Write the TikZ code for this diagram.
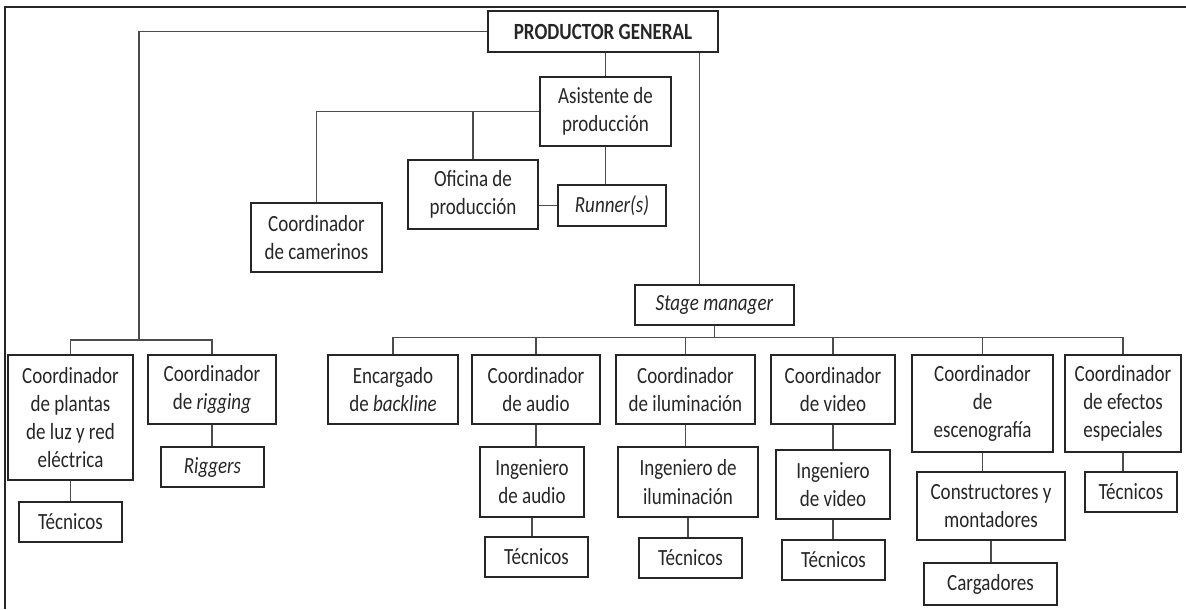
\documentclass[tikz,border=0pt]{standalone}
\usepackage{fontspec}
\setmainfont{Carlito}[FakeStretch=0.82]
\usepackage{tikz}
\usetikzlibrary{positioning,calc}

\begin{document}
\begin{tikzpicture}[
  x=0.02cm, y=-0.02cm,
  box/.style={rectangle, draw=black!85, line width=0.8pt, align=center, inner sep=1pt,
    text=black!85, font=\fontsize{13.2}{16}\selectfont},
  link/.style={draw=black!70, line width=0.8pt},
  frame/.style={draw=black!85, line width=1.3pt}
]
\useasboundingbox (0,0) rectangle (1186,609);

% Frame (top and left only)
\draw[frame] (1186,7) -- (5,7) -- (5,609);

% Top level
\node[box, minimum width=4.6cm, minimum height=0.82cm, font=\fontsize{13.2}{16}\selectfont\bfseries] (pg) at (603,31.5) {PRODUCTOR GENERAL};

% Production office branch
\node[box, minimum width=2.62cm, minimum height=1.38cm] (asist) at (605.5,111.5) {Asistente de\\producción};
\node[box, minimum width=2.6cm, minimum height=1.38cm] (ofic) at (473,194.5) {Oficina de\\producción};
\node[box, minimum width=2.16cm, minimum height=0.82cm] (runner) at (612,205.5) {\textit{Runner(s)}};
\node[box, minimum width=2.62cm, minimum height=1.38cm] (camer) at (316.5,237.5) {Coordinador\\de camerinos};

% Left branch
\node[box, minimum width=2.5cm, minimum height=2.5cm] (plantas) at (70.5,417.5) {Coordinador\\de plantas\\de luz y red\\eléctrica};
\node[box, minimum width=2.06cm, minimum height=0.8cm] (tecpl) at (70.5,522) {Técnicos};
\node[box, minimum width=2.56cm, minimum height=1.38cm] (rigg) at (212,389.5) {Coordinador\\de \textit{rigging}};
\node[box, minimum width=2.06cm, minimum height=0.8cm] (riggers) at (212.5,467) {\textit{Riggers}};

% Stage branch
\node[box, minimum width=3.18cm, minimum height=0.8cm] (stage) at (714.5,305) {\textit{Stage manager}};
\node[box, minimum width=2.6cm, minimum height=1.38cm] (backl) at (393,389.5) {Encargado\\de \textit{backline}};
\node[box, minimum width=2.56cm, minimum height=1.38cm] (caud) at (536,389.5) {Coordinador\\de audio};
\node[box, minimum width=2.08cm, minimum height=1.4cm] (iaud) at (532,482) {Ingeniero\\de audio};
\node[box, minimum width=2.06cm, minimum height=0.8cm] (taud) at (536.5,557) {Técnicos};
\node[box, minimum width=2.78cm, minimum height=1.38cm] (cilu) at (685.5,389.5) {Coordinador\\de iluminación};
\node[box, minimum width=2.8cm, minimum height=1.4cm] (iilu) at (688,482) {Ingeniero de\\iluminación};
\node[box, minimum width=2.06cm, minimum height=0.8cm] (tilu) at (690.5,558) {Técnicos};
\node[box, minimum width=2.48cm, minimum height=1.38cm] (cvid) at (833,389.5) {Coordinador\\de video};
\node[box, minimum width=2.28cm, minimum height=1.38cm] (ivid) at (833,484.5) {Ingeniero\\de video};
\node[box, minimum width=2.06cm, minimum height=0.8cm] (tvid) at (833.5,560) {Técnicos};
\node[box, minimum width=2.82cm, minimum height=1.94cm] (cesc) at (982.5,403.5) {Coordinador\\de\\escenografía};
\node[box, minimum width=2.96cm, minimum height=1.36cm] (const) at (991,506) {Constructores y\\montadores};
\node[box, minimum width=2.66cm, minimum height=0.84cm] (carg) at (990.5,584) {Cargadores};
\node[box, minimum width=2.32cm, minimum height=1.94cm] (cefe) at (1123,403.5) {Coordinador\\de efectos\\especiales};
\node[box, minimum width=1.84cm, minimum height=0.8cm] (tefe) at (1131,492) {Técnicos};

% Junctions
\coordinate (lj) at (139,340);
\coordinate (bus) at ($(stage.south)+(0,12)$);

% Connectors from the top
\draw[link] (pg.west) -| (lj);
\draw[link] (plantas.north) |- (lj) -| (rigg.north);
\draw[link] (asist.north) -- (asist.north |- pg.south);
\draw[link] ([xshift=-0.3cm]stage.north) -- ([xshift=-0.3cm]stage.north |- pg.south);

% Production office
\draw[link] (asist.west) -| (camer.north);
\draw[link] (ofic.north) -- (ofic.north |- asist.west);
\draw[link] (asist.south) -- (asist.south |- runner.north);
\draw[link] (ofic.east |- runner.west) -- (runner.west);

% Stage manager
\draw[link] (stage.south) -- (bus);
\foreach \n in {backl,caud,cilu,cvid,cesc,cefe}
  \draw[link] (\n.north) |- (bus);

% Vertical chains
\foreach \a/\b in {plantas/tecpl, rigg/riggers, caud/iaud, iaud/taud, cilu/iilu, iilu/tilu,
  cvid/ivid, ivid/tvid, cesc/const, const/carg, cefe/tefe}
  \draw[link] (\a.south) -- (\a.south |- \b.north);

\end{tikzpicture}
\end{document}
